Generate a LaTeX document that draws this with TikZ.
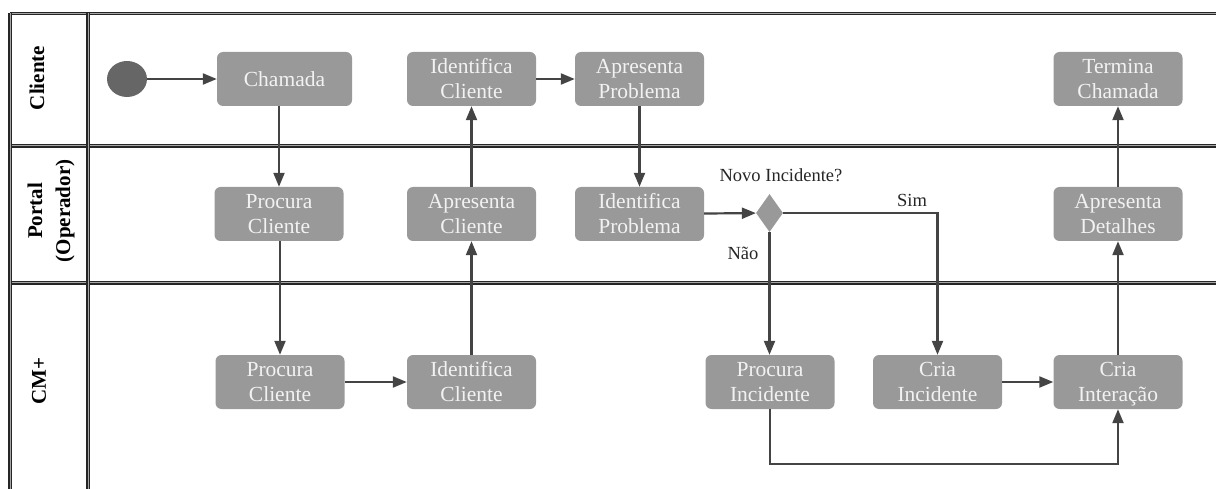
\documentclass[tikz,border=0pt]{standalone}
\usepackage{fontspec}
\setmainfont{Liberation Serif}
\usetikzlibrary{arrows.meta,shapes.geometric}
\definecolor{actfill}{HTML}{999999}
\definecolor{linec}{HTML}{444444}
\definecolor{startc}{HTML}{666666}
\begin{document}
\begin{tikzpicture}[x=1pt,y=-1pt,
  act/.style={fill=actfill, rounded corners=6pt, minimum width=129pt, minimum height=54pt, inner sep=0pt, align=center, text=white!95!black, font=\fontsize{21.5}{25}\selectfont},
  conn/.style={draw=linec, line width=2.2pt, -{Triangle[length=14pt,width=11pt]}},
  lane/.style={draw=black!85, line width=1.3pt, double=gray!70, double distance=1pt},
  lanelabel/.style={rotate=90, align=center, font=\fontsize{21}{28}\selectfont\bfseries},
  lbl/.style={font=\fontsize{18.5}{20}\selectfont, text=black!85}]
\useasboundingbox (0,0) rectangle (1216,489);
% lanes
\draw[lane] (10,13.5) -- (1216,13.5);
\draw[lane] (10,146) -- (1216,146);
\draw[lane] (10,283) -- (1216,283);
\draw[lane] (10,13.5) -- (10,489);
\draw[lane] (88,13.5) -- (88,489);
\node[lanelabel] (lcli) at (37,78) {Cliente};
\node[lanelabel] (lpor) at (51,211) {Portal\\(Operador)};
\node[lanelabel] (lcm) at (39,381) {CM+};
% nodes
\node[ellipse, fill=startc, minimum width=40pt, minimum height=36pt, inner sep=0pt] (start) at (127,79) {};
\node[act, minimum width=135pt] (cham) at (284.5,79) {Chamada};
\node[act] (idc1) at (471.5,79) {Identifica\\Cliente};
\node[act] (approb) at (639.5,79) {Apresenta\\Problema};
\node[act] (term) at (1118,79) {Termina\\Chamada};
\node[act] (proc1) at (279,214) {Procura\\Cliente};
\node[act] (apcl) at (471.5,214) {Apresenta\\Cliente};
\node[act] (idprob) at (639.5,214) {Identifica\\Problema};
\node[act] (apdet) at (1118,214) {Apresenta\\Detalhes};
\node[act] (proc2) at (280,382) {Procura\\Cliente};
\node[act] (idc2) at (471.5,382) {Identifica\\Cliente};
\node[act] (procinc) at (770,382) {Procura\\Incidente};
\node[act] (criainc) at (937.5,382) {Cria\\Incidente};
\node[act] (criaint) at (1118,382) {Cria\\Intera\smash{ç}ão};
\node[diamond, fill=actfill, minimum width=27pt, minimum height=38pt, inner sep=0pt] (dec) at (769.5,213) {};
% labels
\node[lbl] (qnovo) at (781,175) {Novo Incidente?};
\node[lbl] (qsim) at (912,200) {Sim};
\node[lbl] (qnao) at (743,253) {Não};
% connectors
\draw[conn] (start) -- (cham);
\draw[conn] (proc1.north |- cham.south) -- (proc1.north);
\draw[conn] (proc1.south -| proc2.north) -- (proc2.north);
\draw[conn] (proc2) -- (idc2);
\draw[conn] (idc2) -- (apcl);
\draw[conn] (apcl) -- (idc1);
\draw[conn] (idc1) -- (approb);
\draw[conn] (approb) -- (idprob);
\draw[conn] (idprob) -- (dec);
\draw[conn] (dec.east) -| (criainc.north);
\draw[conn] (dec.south) -- (dec.south |- procinc.north);
\draw[conn] (criainc) -- (criaint);
\draw[conn] (procinc.south) -- ++(0,55) -| (criaint.south);
\draw[conn] (criaint) -- (apdet);
\draw[conn] (apdet) -- (term);
\end{tikzpicture}
\end{document}
